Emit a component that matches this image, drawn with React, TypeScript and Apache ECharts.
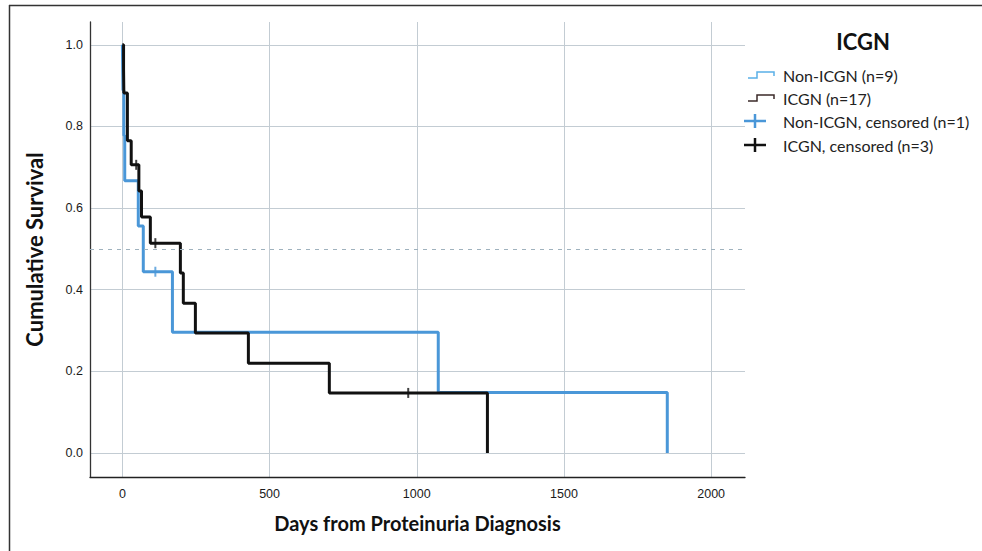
import React, { useEffect, useRef } from "react";
import * as echarts from "echarts";

// Tick labels
const xTicks = [0, 500, 1000, 1500, 2000];
const yTicks = [0, 0.2, 0.4, 0.6, 0.8, 1.0];

// Non-ICGN (n=9): event days and survival after each step
const nonIcgnDays = [0, 2, 5, 8, 54, 71, 170, 1073, 1851];
const nonIcgnSurv = [1, 0.889, 0.778, 0.667, 0.556, 0.444, 0.296, 0.148, 0];
const nonIcgnCensorDays = [112];
const nonIcgnCensorSurv = [0.444];

// ICGN (n=17)
const icgnDays = [0, 4, 5, 17, 30, 56, 65, 95, 197, 207, 248, 428, 703, 1240];
const icgnSurv = [1, 0.941, 0.882, 0.765, 0.706, 0.642, 0.578, 0.514, 0.441, 0.367, 0.294, 0.22, 0.147, 0];
const icgnCensorDays = [47, 112, 971];
const icgnCensorSurv = [0.706, 0.514, 0.147];

const legendTitle = "ICGN";
const legendNames = [
  "Non-ICGN (n=9)",
  "ICGN (n=17)",
  "Non-ICGN, censored (n=1)",
  "ICGN, censored (n=3)",
];

const BLUE = "#4a97d8";
const BLACK = "#111111";

const zip = (a: number[], b: number[]) => a.map((v, i) => [v, b[i]]);

export default function App() {
  const ref = useRef<HTMLDivElement>(null);
  useEffect(() => {
    const chart = echarts.init(ref.current as HTMLDivElement, null, { renderer: "svg" });
    const titleFont = "Lato, 'Open Sans', sans-serif";
    const tickFont = "'Liberation Sans', Arial, sans-serif";
    const lx = 748;
    const ly = [75, 98, 121, 145];
    const stepGlyph = (y: number, color: string) => ({
      type: "polyline",
      shape: {
        points: [
          [lx, y + 3],
          [lx + 9, y + 3],
          [lx + 9, y - 3],
          [lx + 26, y - 3],
          [lx + 26, y + 1],
        ],
      },
      style: { stroke: color, lineWidth: 1.5, fill: "none" },
    });
    const plusGlyph = (y: number, color: string) => ({
      type: "group",
      children: [
        { type: "line", shape: { x1: lx - 4, y1: y, x2: lx + 18, y2: y }, style: { stroke: color, lineWidth: 2.5 } },
        { type: "line", shape: { x1: lx + 7, y1: y - 7, x2: lx + 7, y2: y + 7 }, style: { stroke: color, lineWidth: 2.5 } },
      ],
    });
    const legendText = (i: number) => ({
      type: "text",
      x: 783,
      y: ly[i],
      style: {
        text: legendNames[i],
        fontSize: 16,
        fontFamily: titleFont,
        fill: "#222",
        verticalAlign: "middle",
        align: "left",
      },
    });

    const option = {
      animation: false,
      backgroundColor: "#fff",
      grid: { left: 90, right: 237, top: 22, bottom: 74, containLabel: false },
      xAxis: {
        type: "value",
        min: -110,
        max: 2115,
        axisLine: { show: true, onZero: false, lineStyle: { color: "#222", width: 1.3 } },
        axisTick: { show: false, customValues: xTicks },
        axisLabel: {
          customValues: xTicks,
          formatter: (v: number) => String(v),
          fontSize: 12.5,
          color: "#1a1a1a",
          margin: 10,
          fontFamily: tickFont,
        },
        splitLine: { show: true, lineStyle: { color: "#c3ccd3", width: 1 } },
        name: "Days from Proteinuria Diagnosis",
        nameLocation: "middle",
        nameGap: 36,
        nameTextStyle: { fontSize: 20, fontWeight: "bold", fontFamily: titleFont, color: "#111" },
      },
      yAxis: {
        type: "value",
        min: -0.059,
        max: 1.056,
        axisLine: { show: true, onZero: false, lineStyle: { color: "#333", width: 1.3 } },
        axisTick: { show: false, customValues: yTicks },
        axisLabel: {
          customValues: yTicks,
          formatter: (v: number) => v.toFixed(1),
          fontSize: 12.5,
          color: "#1a1a1a",
          margin: 7,
          fontFamily: tickFont,
        },
        splitLine: { show: true, lineStyle: { color: "#c3ccd3", width: 1 } },
        name: "Cumulative Survival",
        nameLocation: "middle",
        nameGap: 45,
        nameRotate: 90,
        nameTextStyle: { fontSize: 22, fontWeight: "bold", fontFamily: titleFont, color: "#111" },
      },
      series: [
        {
          name: legendNames[0],
          type: "line",
          step: "end",
          data: zip(nonIcgnDays, nonIcgnSurv),
          showSymbol: false,
          symbol: "none",
          lineStyle: { color: BLUE, width: 3 },
          itemStyle: { color: BLUE },
          z: 3,
          markLine: {
            silent: true,
            symbol: "none",
            label: { show: false },
            lineStyle: { type: [4, 5], color: "#9fb2be", width: 1 },
            data: [{ yAxis: 0.5 }],
          },
        },
        {
          name: legendNames[1],
          type: "line",
          step: "end",
          data: zip(icgnDays, icgnSurv),
          showSymbol: false,
          symbol: "none",
          lineStyle: { color: BLACK, width: 3 },
          itemStyle: { color: BLACK },
          z: 4,
        },
        {
          name: legendNames[2],
          type: "scatter",
          data: zip(nonIcgnCensorDays, nonIcgnCensorSurv),
          symbol: "rect",
          symbolSize: [2, 10],
          itemStyle: { color: BLUE },
          z: 5,
        },
        {
          name: legendNames[3],
          type: "scatter",
          data: zip(icgnCensorDays, icgnCensorSurv),
          symbol: "rect",
          symbolSize: [2, 10],
          itemStyle: { color: BLACK },
          z: 6,
        },
      ],
      graphic: [
        { type: "line", shape: { x1: 9.5, y1: 5, x2: 9.5, y2: 551 }, style: { stroke: "#333", lineWidth: 1.5 } },
        { type: "line", shape: { x1: 9, y1: 5.5, x2: 982, y2: 5.5 }, style: { stroke: "#333", lineWidth: 1.5 } },
        {
          type: "text",
          x: 863,
          y: 41,
          style: {
            text: legendTitle,
            fontSize: 22,
            fontWeight: "bold",
            fontFamily: titleFont,
            fill: "#111",
            align: "center",
            verticalAlign: "middle",
          },
        },
        stepGlyph(ly[0], "#5ab0e8"),
        stepGlyph(ly[1], "#3b2a28"),
        plusGlyph(ly[2], BLUE),
        plusGlyph(ly[3], BLACK),
        legendText(0),
        legendText(1),
        legendText(2),
        legendText(3),
      ],
    };
    chart.setOption(option as any);
    return () => chart.dispose();
  }, []);
  return (
    <div
      ref={ref}
      style={{ position: "absolute", left: 0, top: 0, width: 982, height: 551, background: "#fff" }}
    />
  );
}
